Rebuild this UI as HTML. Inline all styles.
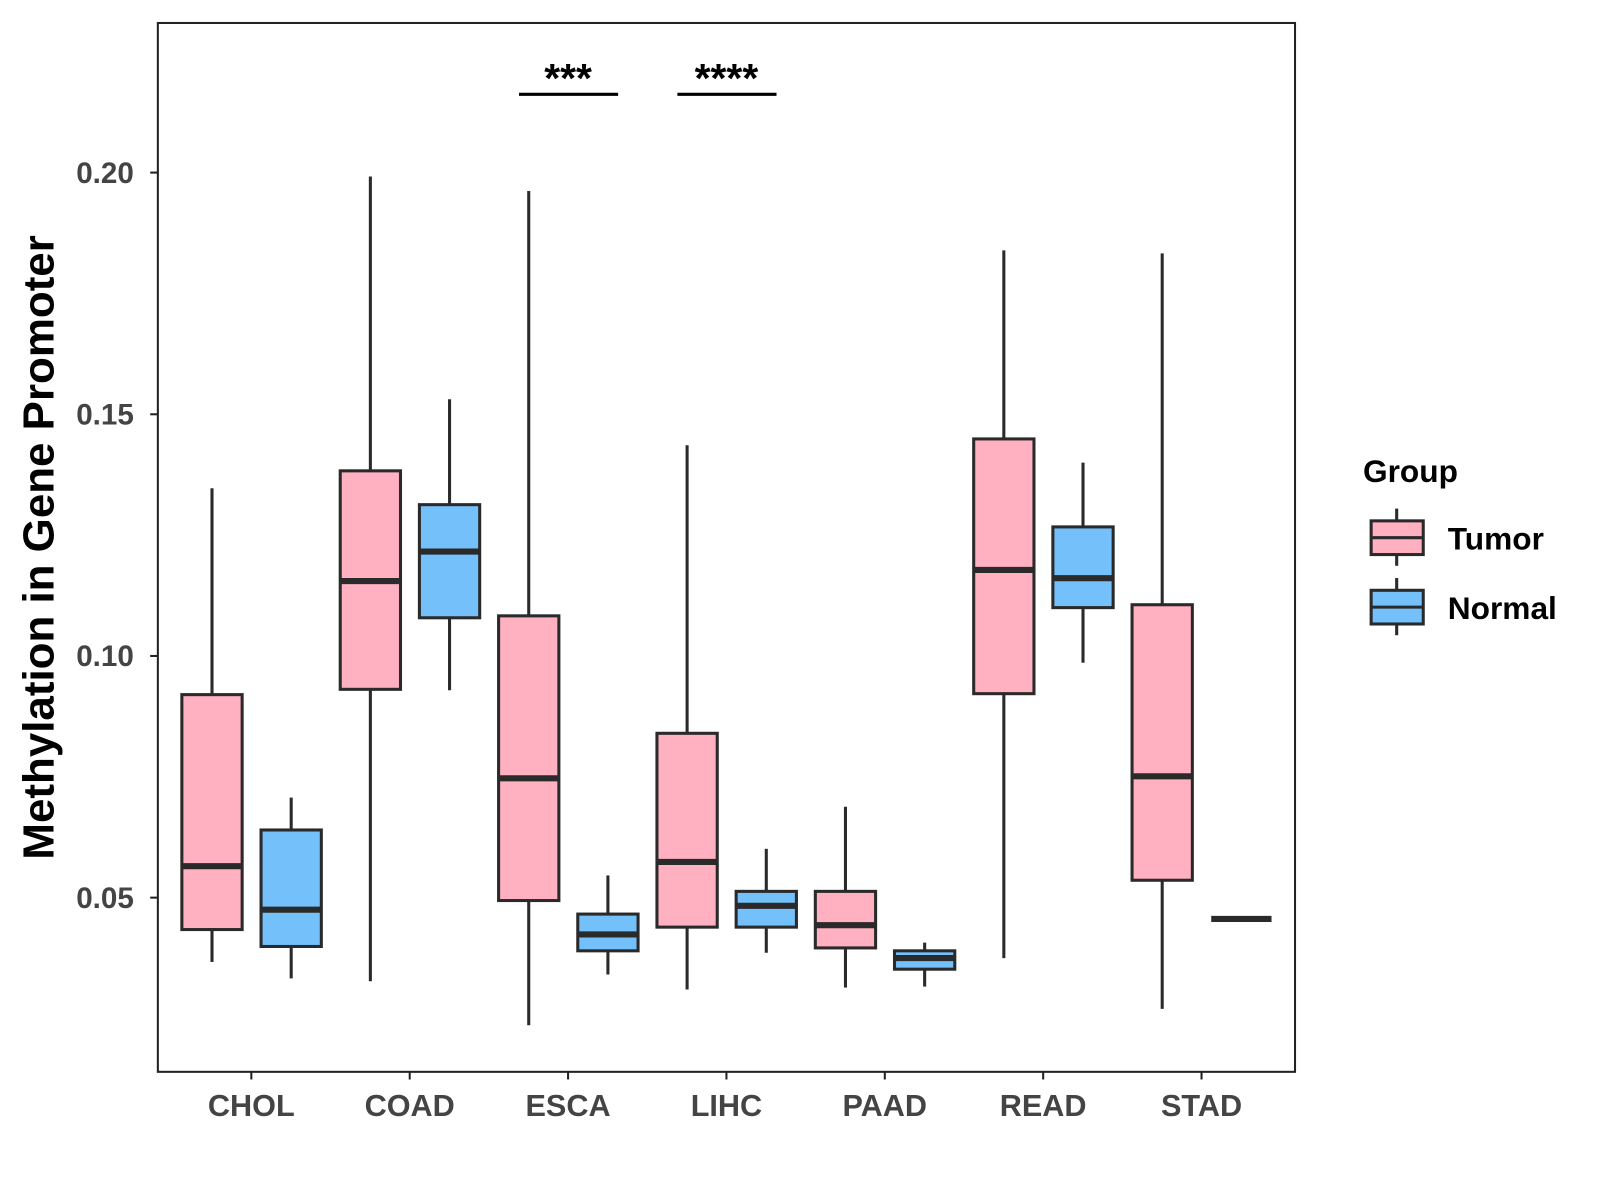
<!DOCTYPE html>
<html><head><meta charset="utf-8"><style>
html,body{margin:0;padding:0;background:#fff;width:1600px;height:1200px;overflow:hidden}
svg{display:block}
text{font-family:"Liberation Sans",Arial,sans-serif;font-weight:bold}
</style></head><body>
<svg id="chart" width="1600" height="1200" viewBox="0 0 1566 1175" preserveAspectRatio="none">
<rect x="0" y="0" width="1566" height="1175" fill="#fff"/>
<rect x="154.5" y="22.5" width="1113" height="1027" fill="none" stroke="#222" stroke-width="2"/>
<text x="38" y="536" transform="rotate(-90 38 536)" text-anchor="middle" dominant-baseline="central" font-size="43" fill="#000">Methylation in Gene Promoter</text>
<g id="yticks"></g><g id="xticks"></g><g id="boxes"></g><g id="sig"></g>
<g>
<text x="1334" y="472" font-size="31" fill="#000">Group</text>
<g>
<line x1="1367" y1="498" x2="1367" y2="554" stroke="#2a2a2a" stroke-width="3"/>
<rect x="1342" y="510" width="51" height="33" fill="#FFB0C1" stroke="#2a2a2a" stroke-width="3"/>
<line x1="1342" y1="526.5" x2="1393" y2="526.5" stroke="#2a2a2a" stroke-width="3"/>
<text x="1417" y="538" font-size="31" fill="#000">Tumor</text></g>
<g>
<line x1="1367" y1="566" x2="1367" y2="622" stroke="#2a2a2a" stroke-width="3"/>
<rect x="1342" y="578" width="51" height="33" fill="#74C0FA" stroke="#2a2a2a" stroke-width="3"/>
<line x1="1342" y1="594.5" x2="1393" y2="594.5" stroke="#2a2a2a" stroke-width="3"/>
<text x="1417" y="606" font-size="31" fill="#000">Normal</text></g>
</g>
</svg>
<script>
const categories=["CHOL","COAD","ESCA","LIHC","PAAD","READ","STAD"];
// [lower whisker, q1, median, q3, upper whisker]
const tumorStats=[[0.0367,0.0434,0.0565,0.092,0.1347],[0.0327,0.0931,0.1155,0.1383,0.1992],[0.0236,0.0494,0.0747,0.1083,0.1962],[0.0310,0.0439,0.0574,0.0840,0.1436],[0.0314,0.0396,0.0443,0.0513,0.0688],[0.0375,0.0922,0.1178,0.1449,0.1839],[0.0270,0.0536,0.0751,0.1106,0.1833]];
const normalStats=[[0.0333,0.0399,0.0475,0.0640,0.0707],[0.0929,0.1079,0.1216,0.1313,0.1531],[0.0341,0.0390,0.0424,0.0466,0.0546],[0.0386,0.0439,0.0483,0.0513,0.0601],[0.0316,0.0352,0.0375,0.0390,0.0407],[0.0986,0.1100,0.1161,0.1267,0.1400],[0.0456,0.0456,0.0456,0.0456,0.0456]];
const yTicks=[0.05,0.10,0.15,0.20];
const yTickLabels=["0.05","0.10","0.15","0.20"];
const sigCats=["ESCA","LIHC"];
const sigLabels=["***","****"];
const sigLevel=0.2162;

const NS="http://www.w3.org/2000/svg";
function y(v){return 169+(0.20-v)*4733;}
function x(i){return 246+i*155;}
function el(tag,attrs,parent){const e=document.createElementNS(NS,tag);for(const k in attrs)e.setAttribute(k,attrs[k]);parent.appendChild(e);return e;}
const yg=document.getElementById('yticks'),xg=document.getElementById('xticks'),bg=document.getElementById('boxes'),sg=document.getElementById('sig');
yTicks.forEach((v,i)=>{
 const t=el('line',{x1:147,x2:154,y1:y(v),y2:y(v),stroke:'#222','stroke-width':2},yg);
 
 
 const l=el('text',{x:131,y:y(v)+10,'text-anchor':'end','font-size':29,fill:'#444'},yg);
 l.textContent=yTickLabels[i];
 
 
});
categories.forEach((c,i)=>{
 const t=el('line',{x1:x(i),x2:x(i),y1:1050,y2:1057,stroke:'#222','stroke-width':2},xg);
 
 
 const l=el('text',{x:x(i),y:1093,'text-anchor':'middle','font-size':30,fill:'#444'},xg);
 l.textContent=c;
 
 
});
function drawBox(s,cx,fill,name){
 const g=el('g',{},bg);
 
 
 const st={stroke:'#2a2a2a','stroke-width':3};
 el('line',Object.assign({x1:cx,x2:cx,y1:y(s[4]),y2:y(s[3])},st),g);
 el('line',Object.assign({x1:cx,x2:cx,y1:y(s[1]),y2:y(s[0])},st),g);
 el('rect',Object.assign({x:cx-29.5,y:y(s[3]),width:59,height:Math.max(0,y(s[1])-y(s[3])),fill:fill},st),g);
 el('line',{x1:cx-29.5,x2:cx+29.5,y1:y(s[2]),y2:y(s[2]),stroke:'#2a2a2a','stroke-width':6},g);
}
categories.forEach((c,i)=>{
 drawBox(tumorStats[i],x(i)-38.5,'#FFB0C1','box-tumor-'+c.toLowerCase());
 drawBox(normalStats[i],x(i)+39,'#74C0FA','box-normal-'+c.toLowerCase());
});
sigCats.forEach((c,k)=>{
 const i=categories.indexOf(c);
 const ln=el('line',{x1:x(i)-48,x2:x(i)+49,y1:y(sigLevel),y2:y(sigLevel),stroke:'#000','stroke-width':3},sg);
 
 
 const t=el('text',{x:x(i),y:y(sigLevel)-2,'text-anchor':'middle','font-size':40,fill:'#000'},sg);
 t.textContent=sigLabels[k];
 
 
});
</script>
</body></html>
